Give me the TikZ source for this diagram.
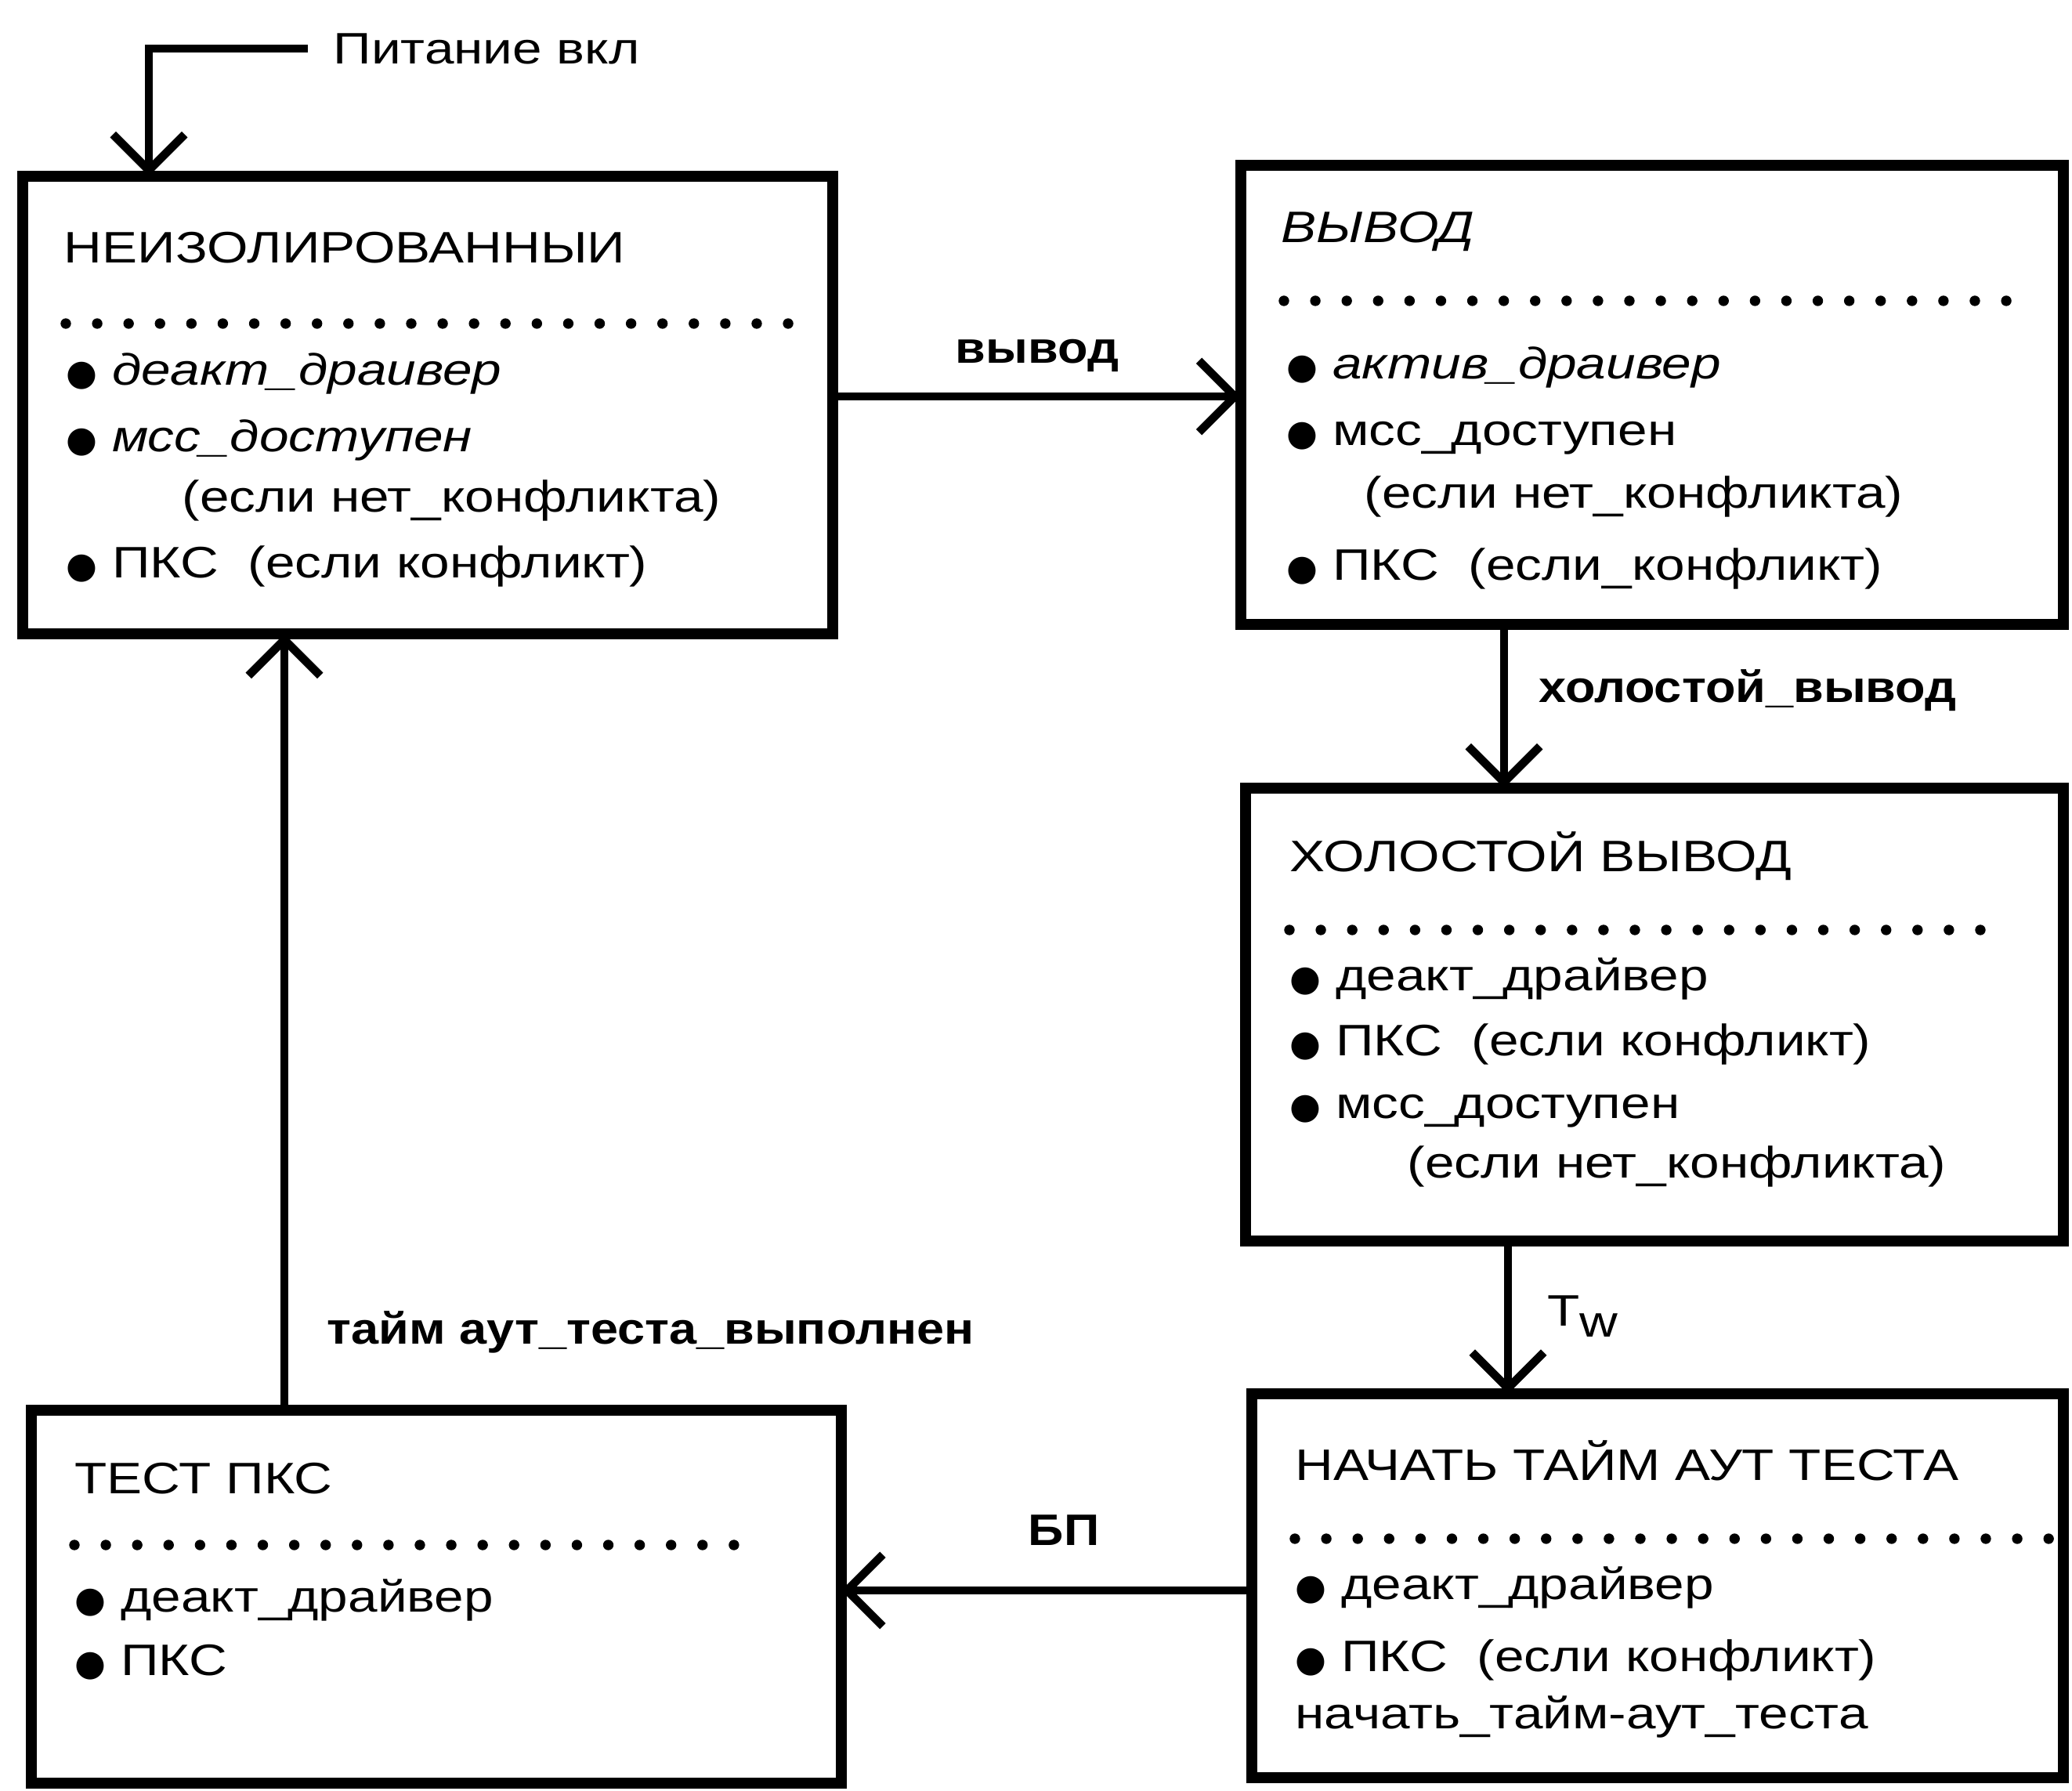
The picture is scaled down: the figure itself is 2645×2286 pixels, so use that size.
\documentclass[tikz,border=0pt]{standalone}
\usepackage{fontspec}
\setmainfont{Liberation Sans}[FakeStretch=1.2,BoldFeatures={FakeStretch=1.12}]
\newfontfamily\dejavu{DejaVu Sans}
\usetikzlibrary{arrows.meta}
\newcommand\bul{{\dejavu\fontsize{13}{13}\selectfont ●}\ }
\tikzset{
  state/.style={draw,line width=4pt,inner sep=0pt,outer sep=0pt},
  trans/.style={line width=3pt,-{Straight Barb[length=13pt,width=26pt]}},
  dotrule/.style={line width=3.8pt,line cap=round,dash pattern=on 0pt off 11.4pt},
  txt/.style={inner sep=0pt,anchor=base west,font=\fontsize{16}{19}\selectfont},
  lbl/.style={inner sep=0pt,font=\fontsize{16}{19}\selectfont\bfseries}
}

\begin{document}
\begin{tikzpicture}[x=0.01cm,y=-0.01cm]
      \useasboundingbox (0,0) rectangle (2645,2286);
      % states
      \node[state,minimum width=10.34cm,minimum height=5.84cm] (neizol) at (546,517) {};
      \node[state,minimum width=10.50cm,minimum height=5.85cm] (vyvod) at (2109,504) {};
      \node[state,minimum width=10.43cm,minimum height=5.78cm] (holost) at (2112,1295) {};
      \node[state,minimum width=10.35cm,minimum height=4.89cm] (nachat) at (2116,2024) {};
      \node[state,minimum width=10.33cm,minimum height=4.75cm] (testpks) at (557,2038) {};
      % dotted rules
      \draw[dotrule] (84,413) -- (1021,413);
      \draw[dotrule] (1639,384) -- (2570,384);
      \draw[dotrule] (1646,1187) -- (2559,1187);
      \draw[dotrule] (1653,1964) -- (2625,1964);
      \draw[dotrule] (95,1972) -- (945,1972);
      % box texts
      \node[txt] (t1) at (81,336) {НЕИЗОЛИРОВАННЫИ};
      \node[txt] (t1a) at (84,492) {\bul\textit{деакт\_драивер}};
      \node[txt] (t1b) at (84,577) {\bul\textit{мсс\_доступен}};
      \node[txt] (t1c) at (232,654) {(если нет\_конфликта)};
      \node[txt] (t1d) at (84,738) {\bul ПКС\ \ (если конфликт)};
      \node[txt] (t2) at (1635,310) {\textit{ВЫВОД}};
      \node[txt] (t2a) at (1642,484) {\bul\textit{актив\_драивер}};
      \node[txt] (t2b) at (1642,569) {\bul мсс\_доступен};
      \node[txt] (t2c) at (1741,649) {(если нет\_конфликта)};
      \node[txt] (t2d) at (1642,741) {\bul ПКС\ \ (если\_конфликт)};
      \node[txt] (t3) at (1646,1113) {ХОЛОСТОЙ ВЫВОД};
      \node[txt] (t3a) at (1646,1265) {\bul деакт\_драйвер};
      \node[txt] (t3b) at (1646,1347) {\bul ПКС\ \ (если конфликт)};
      \node[txt] (t3c) at (1646,1428) {\bul мсс\_доступен};
      \node[txt] (t3d) at (1796,1504) {(если нет\_конфликта)};
      \node[txt] (t4) at (1653,1889) {НАЧАТЬ ТАЙМ АУТ ТЕСТА};
      \node[txt] (t4a) at (1653,2041) {\bul деакт\_драйвер};
      \node[txt] (t4b) at (1653,2133) {\bul ПКС\ \ (если конфликт)};
      \node[txt] (t4c) at (1653,2206) {начать\_тайм-аут\_теста};
      \node[txt] (t5) at (95,1906) {ТЕСТ ПКС};
      \node[txt] (t5a) at (95,2057) {\bul деакт\_драйвер};
      \node[txt] (t5b) at (95,2138) {\bul ПКС};
      % transitions
      \coordinate (pc) at (190,0);
      \coordinate (vy) at (0,506);
      \coordinate (hx) at (1920,0);
      \coordinate (tx) at (1925,0);
      \coordinate (bp) at (0,2030);
      \coordinate (ta) at (363,0);
      \node[txt,anchor=west] (pitanie) at (425,62) {Питание вкл};
      \draw[trans] ([xshift=-0.32cm]pitanie.west) -| (neizol.north -| pc);
      \draw[trans] (neizol.east |- vy) -- (vyvod.west |- vy);
      \node[lbl,anchor=base] (lvyvod) at (1324,464) {вывод};
      \draw[trans] (vyvod.south -| hx) -- (holost.north -| hx);
      \node[lbl,anchor=base west] (lholost) at (1964,897) {холостой\_вывод};
      \draw[trans] (holost.south -| tx) -- (nachat.north -| tx);
      \node[txt] (ltw) at (1975,1692) {T\raisebox{-0.5ex}{w}};
      \draw[trans] (nachat.west |- bp) -- (testpks.east |- bp);
      \node[lbl,anchor=base] (lbp) at (1358,1972) {БП};
      \draw[trans] (testpks.north -| ta) -- (neizol.south -| ta);
      \node[lbl,anchor=base west] (ltaim) at (417,1715) {тайм аут\_теста\_выполнен};
    \end{tikzpicture}
\end{document}
